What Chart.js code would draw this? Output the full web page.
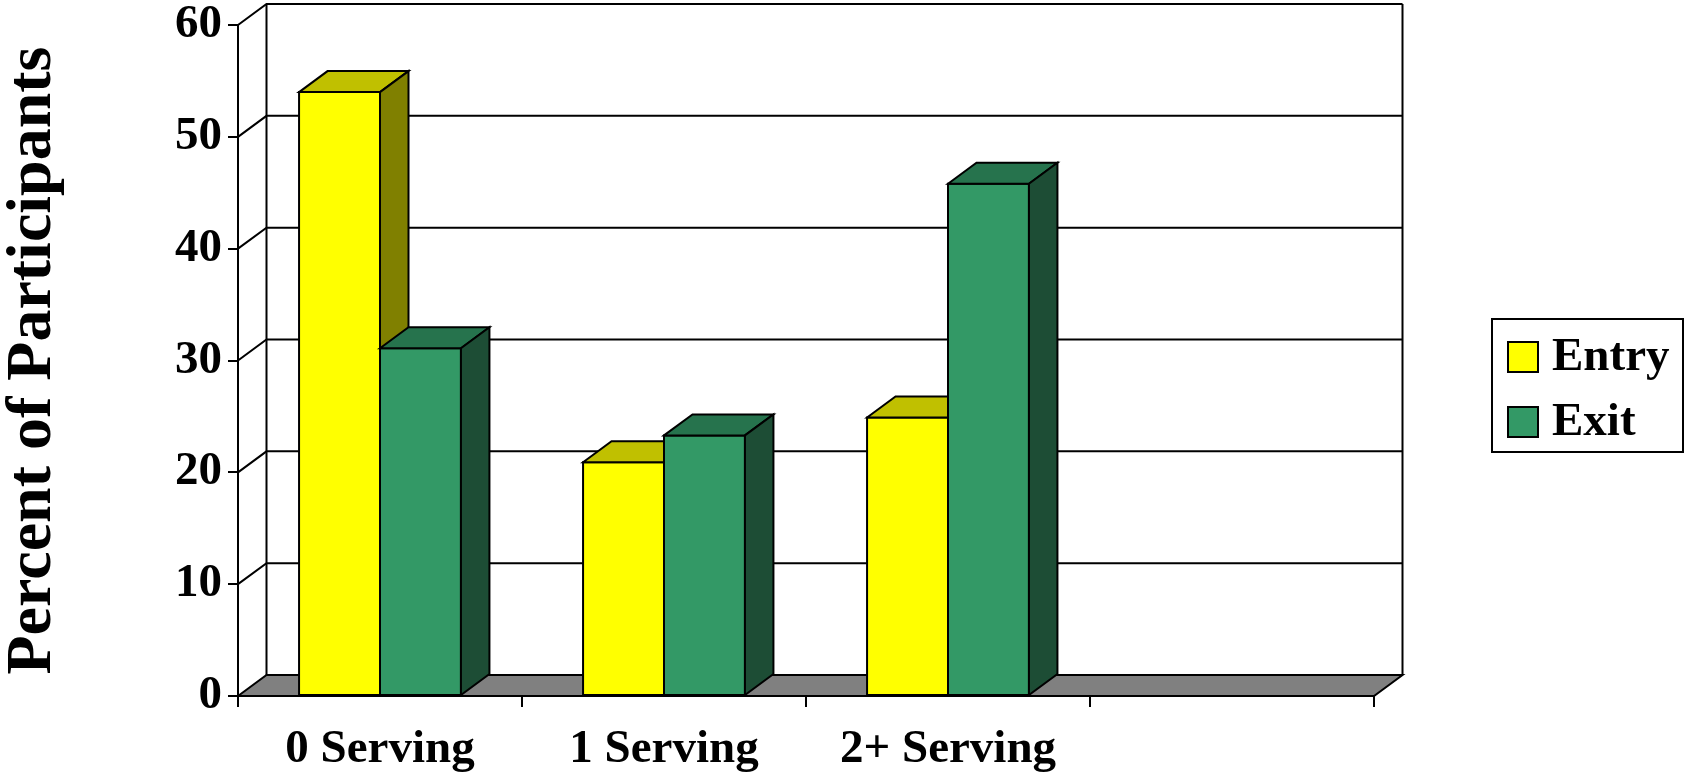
<!DOCTYPE html>
<html>
<head>
<meta charset="utf-8">
<script src="https://cdn.jsdelivr.net/npm/chart.js@4/dist/chart.umd.min.js"></script>
<style>
  html, body { margin: 0; padding: 0; background: #ffffff; }
  canvas { display: block; }
</style>
</head>
<body>
<canvas id="c" width="1684" height="780"></canvas>
<script>
// ---- data ----
const categories = ['0 Serving', '1 Serving', '2+ Serving', ''];
const seriesNames = ['Entry', 'Exit'];
const entryValues = [54.0, 20.9, 24.9, null];
const exitValues = [31.1, 23.3, 45.8, null];
const yMin = 0;
const yMax = 60;
const yStep = 10;
const yTitle = 'Percent of Participants';

// ---- style ----
const FONT = '"Liberation Serif", "Times New Roman", serif';
const faceColors = [
  { front: '#FFFF00', top: '#C0C000', side: '#808000' },
  { front: '#339966', top: '#26734D', side: '#1D4D35' }
];
const DX = 28.5, DY = 21;

const threeD = {
  id: 'threeD',
  beforeDatasetsDraw(chart) {
    const ctx = chart.ctx;
    const ys = chart.scales.y;
    const L = chart.chartArea.left, R = chart.chartArea.right;
    const y0 = ys.getPixelForValue(yMin);
    const yTop = ys.getPixelForValue(yMax);
    ctx.save();
    ctx.lineWidth = 2;
    ctx.strokeStyle = '#000';
    for (let v = yMin + yStep; v <= yMax; v += yStep) {
      const py = ys.getPixelForValue(v);
      ctx.beginPath();
      ctx.moveTo(L, py);
      ctx.lineTo(L + DX, py - DY);
      ctx.lineTo(R + DX, py - DY);
      ctx.stroke();
    }
    ctx.beginPath();
    ctx.moveTo(L + DX, yTop - DY);
    ctx.lineTo(L + DX, y0 - DY);
    ctx.moveTo(R + DX, yTop - DY);
    ctx.lineTo(R + DX, y0 - DY);
    ctx.stroke();
    ctx.beginPath();
    ctx.moveTo(L, y0);
    ctx.lineTo(L + DX, y0 - DY);
    ctx.lineTo(R + DX, y0 - DY);
    ctx.lineTo(R, y0);
    ctx.closePath();
    ctx.fillStyle = '#808080';
    ctx.fill();
    ctx.stroke();
    ctx.restore();
  },
  afterDatasetsDraw(chart) {
    const ctx = chart.ctx;
    const metas = chart.data.datasets.map((d, i) => chart.getDatasetMeta(i));
    ctx.save();
    ctx.lineWidth = 2;
    ctx.strokeStyle = '#000';
    for (let c = 0; c < categories.length; c++) {
      for (let d = 0; d < metas.length; d++) {
        const el = metas[d].data[c];
        const val = chart.data.datasets[d].data[c];
        if (!el || val === null || val === undefined) continue;
        const p = el.getProps(['x', 'y', 'base', 'width'], true);
        const l = p.x - p.width / 2, r = p.x + p.width / 2;
        const t = p.y, b = p.base;
        const col = faceColors[d];
        ctx.beginPath();
        ctx.rect(l, t, r - l, b - t);
        ctx.fillStyle = col.front; ctx.fill(); ctx.stroke();
        ctx.beginPath();
        ctx.moveTo(l, t); ctx.lineTo(l + DX, t - DY); ctx.lineTo(r + DX, t - DY); ctx.lineTo(r, t); ctx.closePath();
        ctx.fillStyle = col.top; ctx.fill(); ctx.stroke();
        ctx.beginPath();
        ctx.moveTo(r, t); ctx.lineTo(r + DX, t - DY); ctx.lineTo(r + DX, b - DY); ctx.lineTo(r, b); ctx.closePath();
        ctx.fillStyle = col.side; ctx.fill(); ctx.stroke();
      }
    }
    ctx.restore();
  },
  afterDraw(chart) {
    const ctx = chart.ctx;
    ctx.save();
    const bx = 1492, by = 319, bw = 191, bh = 133;
    ctx.fillStyle = '#fff';
    ctx.fillRect(bx, by, bw, bh);
    ctx.lineWidth = 2;
    ctx.strokeStyle = '#000';
    ctx.strokeRect(bx, by, bw, bh);
    ctx.font = 'bold 47px ' + FONT;
    ctx.textBaseline = 'middle';
    ctx.textAlign = 'left';
    chart.data.datasets.forEach((ds, i) => {
      const sy = 342 + i * 65;
      ctx.fillStyle = ds.backgroundColor;
      ctx.fillRect(1508, sy, 30, 30);
      ctx.strokeRect(1508, sy, 30, 30);
      ctx.fillStyle = '#000';
      ctx.fillText(ds.label, 1552, sy + 16);
    });
    ctx.restore();
  }
};

new Chart(document.getElementById('c'), {
  type: 'bar',
  data: {
    labels: categories,
    datasets: [
      { label: seriesNames[0], data: entryValues, backgroundColor: faceColors[0].front, borderColor: '#000', borderWidth: 0 },
      { label: seriesNames[1], data: exitValues, backgroundColor: faceColors[1].front, borderColor: '#000', borderWidth: 0 }
    ]
  },
  options: {
    responsive: false,
    animation: false,
    devicePixelRatio: 1,
    layout: { autoPadding: false, padding: { top: 25, right: 310, left: 0, bottom: 0 } },
    datasets: { bar: { categoryPercentage: 0.57, barPercentage: 1.0 } },
    plugins: { legend: { display: false }, tooltip: { enabled: false } },
    scales: {
      x: {
        grid: { display: true, drawOnChartArea: false, drawTicks: true, tickLength: 11, color: '#000', lineWidth: 2, offset: true },
        border: { display: true, color: '#000', width: 2 },
        ticks: { color: '#000', font: { family: FONT, size: 47, weight: 'bold' }, padding: 15, maxRotation: 0, autoSkip: false },
        afterFit: (s) => { s.height = 84; s.paddingLeft = 0; s.paddingRight = 0; }
      },
      y: {
        min: yMin, max: yMax,
        grid: { display: true, drawOnChartArea: false, drawTicks: true, tickLength: 10, color: '#000', lineWidth: 2 },
        border: { display: true, color: '#000', width: 2 },
        ticks: { stepSize: yStep, color: '#000', font: { family: FONT, size: 47, weight: 'bold' }, padding: 6 },
        title: { display: true, text: yTitle, color: '#000', font: { family: FONT, size: 64, weight: 'bold', lineHeight: 1.05 }, padding: 0 },
        afterFit: (s) => { s.width = 238; s.paddingTop = 0; s.paddingBottom = 0; }
      }
    }
  },
  plugins: [threeD]
});
</script>
</body>
</html>
